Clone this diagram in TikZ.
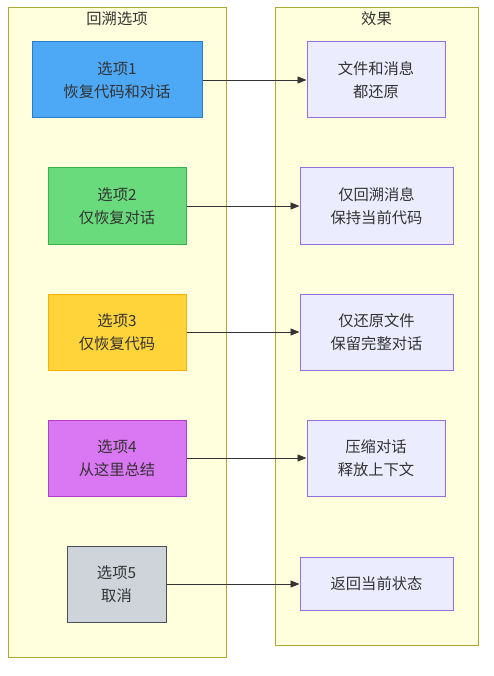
\documentclass[tikz,border=0pt]{standalone}
\usepackage{fontspec}
\setmainfont{Noto Sans CJK SC}
\usetikzlibrary{arrows.meta}
\definecolor{txt}{HTML}{333333}
\definecolor{clfill}{HTML}{FFFFDE}
\definecolor{cldraw}{HTML}{AAAA33}
\definecolor{efill}{HTML}{ECECFF}
\definecolor{edraw}{HTML}{9370DB}
\tikzset{
  box/.style={draw, line width=1pt, minimum height=76pt, align=center, text=txt,
    font=\fontsize{15.3pt}{22.5pt}\selectfont, inner sep=0pt},
  effbox/.style={box, fill=efill, draw=edraw},
  cluster/.style={fill=clfill, draw=cldraw, line width=1pt},
  link/.style={draw=txt, line width=0.8pt, -{Triangle[length=9pt,width=7pt]}}
}
\begin{document}
\begin{tikzpicture}[x=1pt,y=-1pt]
  \useasboundingbox (0,0) rectangle (494,676);
  % clusters
  \draw[cluster] (8,8) rectangle (226,657);
  \draw[cluster] (275,8) rectangle (478,645);
  \node[text=txt, font=\fontsize{15.3pt}{18pt}\selectfont] (tOpt) at (117,19) {回溯选项};
  \node[text=txt, font=\fontsize{15.3pt}{18pt}\selectfont] (tEff) at (376.5,19) {效果};
  % options
  \node[box, fill={rgb,255:red,77;green,168;blue,246}, draw={rgb,255:red,43;green,124;blue,200}, minimum width=170pt] (opt1) at (117,80) {选项1\\恢复代码和对话};
  \node[box, fill={rgb,255:red,105;green,219;blue,124}, draw={rgb,255:red,55;green,178;blue,77}, minimum width=138pt] (opt2) at (117,206) {选项2\\仅恢复对话};
  \node[box, fill={rgb,255:red,255;green,212;blue,59}, draw={rgb,255:red,250;green,176;blue,5}, minimum width=138pt] (opt3) at (117,332) {选项3\\仅恢复代码};
  \node[box, fill={rgb,255:red,218;green,119;blue,242}, draw={rgb,255:red,174;green,62;blue,201}, minimum width=138pt] (opt4) at (117,458) {选项4\\从这里总结};
  \node[box, fill={rgb,255:red,206;green,212;blue,218}, draw={rgb,255:red,73;green,80;blue,87}, minimum width=99pt] (opt5) at (116.5,584) {选项5\\取消};
  % effects
  \node[effbox, minimum width=138pt] (eff1) at (376,80) {文件和消息\\都还原};
  \node[effbox, minimum width=153pt] (eff2) at (376.5,206) {仅回溯消息\\保持当前代码};
  \node[effbox, minimum width=153pt] (eff3) at (376.5,332) {仅还原文件\\保留完整对话};
  \node[effbox, minimum width=138pt] (eff4) at (376,458) {压缩对话\\释放上下文};
  \node[effbox, minimum width=153pt, minimum height=53pt] (eff5) at (376.5,584) {返回当前状态};
  \foreach \i in {1,...,5} \draw[link] (opt\i.east) -- (eff\i.west);
\end{tikzpicture}
\end{document}
